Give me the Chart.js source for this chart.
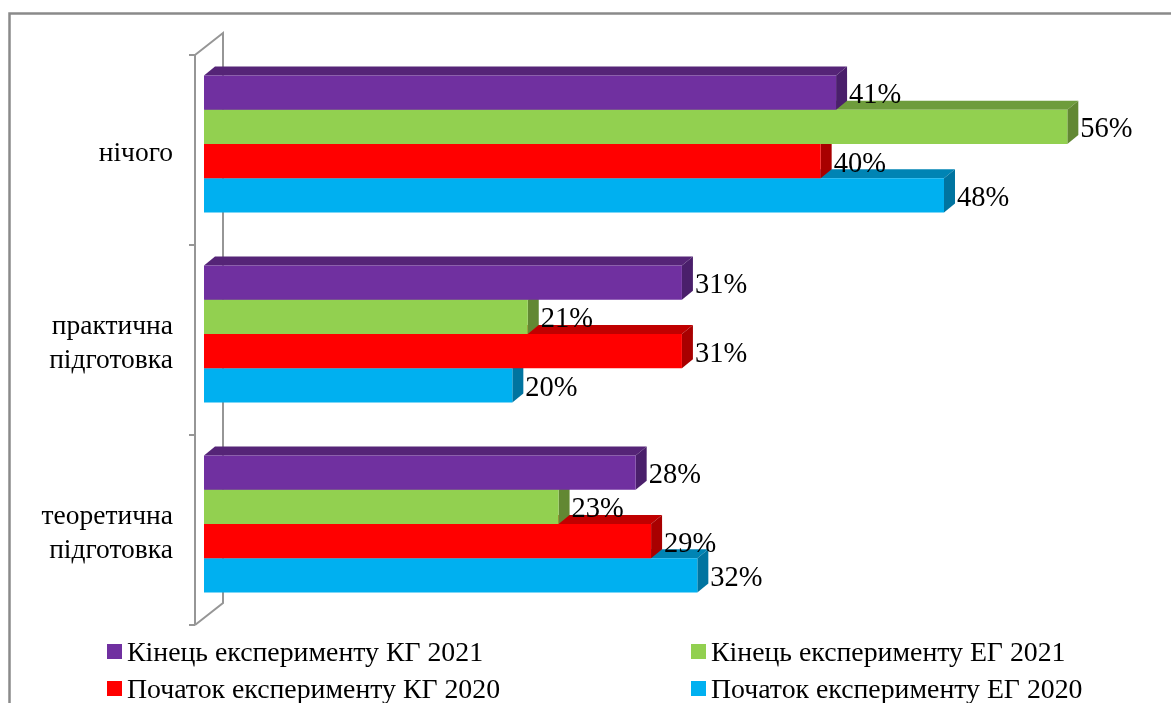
<!DOCTYPE html>
<html>
<head>
<meta charset="utf-8">
<script src="https://cdn.jsdelivr.net/npm/chart.js@4"></script>
<style>
  html, body { margin:0; padding:0; background:#fff; overflow:hidden; }
  #wrap { position:relative; width:1171px; height:703px; }
</style>
</head>
<body>
<div id="wrap"><canvas id="chart" width="1171" height="703"></canvas></div>
<script>
const categories = [['нічого'], ['практична', 'підготовка'], ['теоретична', 'підготовка']];
const seriesNames = [
  'Кінець експерименту КГ 2021',
  'Кінець експерименту ЕГ 2021',
  'Початок експерименту КГ 2020',
  'Початок експерименту ЕГ 2020'
];
const kgEnd2021 = [41, 31, 28];
const egEnd2021 = [56, 21, 23];
const kgStart2020 = [40, 31, 29];
const egStart2020 = [48, 20, 32];

const frontColors = ['#7030a0', '#92d050', '#ff0000', '#00b0f0'];
const topColors = ['#552477', '#6e9c3c', '#c00000', '#0084b4'];
const sideColors = ['#4a1f6b', '#628833', '#a80000', '#0074a0'];

const FONT = '"Liberation Serif", "Times New Roman", serif';
const DEPTH_X = 11, DEPTH_Y = 9;
const WALL = '#969696';

function poly(ctx, pts, color){
  ctx.fillStyle = color;
  ctx.beginPath();
  pts.forEach((p,i)=> i ? ctx.lineTo(p[0],p[1]) : ctx.moveTo(p[0],p[1]));
  ctx.closePath();
  ctx.fill();
}

// frame and the 3d axis wall behind the bars
const wallPlugin = {
  id:'wall',
  beforeDatasetsDraw(chart){
    const {ctx, chartArea:a} = chart;
    const band = a.height / categories.length;
    ctx.save();
    ctx.strokeStyle = '#8a8a8a';
    ctx.lineWidth = 2.5;
    ctx.strokeRect(9.5, 13.5, 1300, 800);
    ctx.strokeStyle = WALL;
    ctx.lineWidth = 2;
    const fx = a.left - 9, bx = a.left + 19, t = a.top + 6;
    const b = t + band * categories.length;
    ctx.beginPath();
    ctx.moveTo(fx, t); ctx.lineTo(fx, b);
    ctx.moveTo(fx, t); ctx.lineTo(bx, t - 22); ctx.lineTo(bx, b - 22); ctx.lineTo(fx, b);
    for(let i=0;i<=categories.length;i++){
      ctx.moveTo(fx - 6, t + band*i); ctx.lineTo(fx, t + band*i);
    }
    ctx.stroke();
    ctx.restore();
  }
};

// top and side faces of every bar, drawn just before the library paints the front
const depthPlugin = {
  id:'depth',
  beforeDatasetDraw(chart, args){
    const {ctx} = chart;
    const i = args.index;
    chart.getDatasetMeta(i).data.forEach(bar=>{
      const h = bar.height / 2;
      const x0 = bar.base, x1 = bar.x, y0 = bar.y - h, y1 = bar.y + h;
      poly(ctx, [[x0,y0],[x0+DEPTH_X,y0-DEPTH_Y],[x1+DEPTH_X,y0-DEPTH_Y],[x1,y0]], topColors[i]);
      poly(ctx, [[x1,y0],[x1+DEPTH_X,y0-DEPTH_Y],[x1+DEPTH_X,y1-DEPTH_Y],[x1,y1]], sideColors[i]);
    });
  },
  afterDatasetsDraw(chart){
    const {ctx} = chart;
    ctx.save();
    ctx.font = '28.5px ' + FONT;
    ctx.fillStyle = '#000';
    ctx.textAlign = 'left';
    ctx.textBaseline = 'middle';
    chart.data.datasets.forEach((ds,i)=>{
      chart.getDatasetMeta(i).data.forEach((bar,j)=>{
        ctx.fillText(ds.data[j] + '%', bar.x + DEPTH_X + 2, bar.y + 3);
      });
    });
    ctx.restore();
  }
};

// two column legend, the built in one cannot line up its columns
const legendPlugin = {
  id:'legend2',
  afterDraw(chart){
    const {ctx} = chart;
    const colX = [107, 691], rowY = [652, 689];
    ctx.save();
    ctx.font = '27.8px ' + FONT;
    ctx.fillStyle = '#000';
    ctx.textBaseline = 'middle';
    chart.data.datasets.forEach((ds,i)=>{
      const x = colX[i % 2], y = rowY[Math.floor(i / 2)];
      ctx.fillStyle = frontColors[i];
      ctx.fillRect(x, y - 8, 15, 15);
      ctx.fillStyle = '#000';
      ctx.fillText(ds.label, x + 20, y + 2);
    });
    ctx.restore();
  }
};

const seriesValues = [kgEnd2021, egEnd2021, kgStart2020, egStart2020];

new Chart(document.getElementById('chart').getContext('2d'), {
  type:'bar',
  plugins:[wallPlugin, depthPlugin, legendPlugin],
  data:{
    labels: categories,
    datasets: seriesNames.map((name,i)=>({
      label: name,
      data: seriesValues[i],
      backgroundColor: frontColors[i],
      borderWidth: 0,
      categoryPercentage: 0.72,
      barPercentage: 1
    }))
  },
  options:{
    indexAxis:'y',
    responsive:false,
    animation:false,
    layout:{ padding:{ top:49, right:42, bottom:84, left:0 } },
    plugins:{ legend:{display:false}, tooltip:{enabled:false} },
    scales:{
      x:{ display:false, min:0, max:60 },
      y:{
        afterFit(scale){ scale.width = 204; scale.paddingTop = 0; scale.paddingBottom = 0; },
        grid:{ display:false, drawTicks:false },
        border:{ display:false },
        ticks:{
          color:'#000',
          padding:31,
          labelOffset:10,
          autoSkip:false,
          font:{ family:FONT, size:27.5, lineHeight:1.25 }
        }
      }
    }
  }
});
</script>
</body>
</html>
